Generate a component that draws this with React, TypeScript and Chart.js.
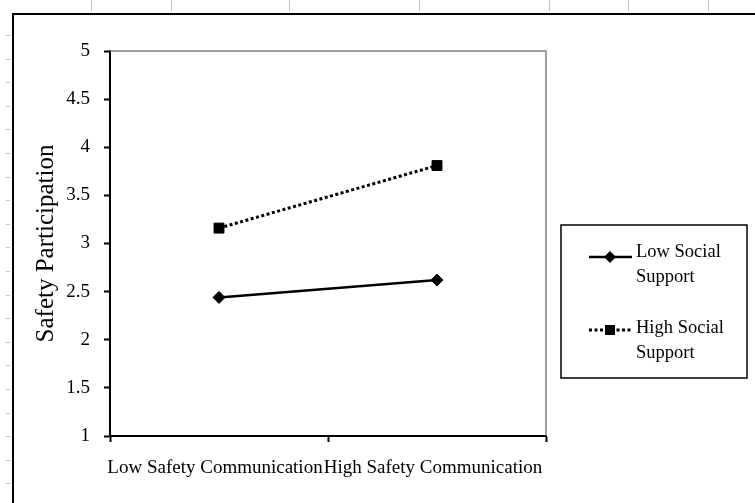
import React, { useEffect, useRef } from 'react';
import { Chart, registerables } from 'chart.js';

Chart.register(...registerables);

const categories = ['Low Safety Communication', 'High Safety Communication'];
const seriesLabels = ['Low Social Support', 'High Social Support'];
const lowSocialSupport = [2.44, 2.62];
const highSocialSupport = [3.16, 3.81];
const yMin = 1;
const yMax = 5;
const yStep = 0.5;
const yTitle = 'Safety Participation';

const SERIF = '"Liberation Serif", "Times New Roman", serif';

const framePlugin = {
  id: 'framePlugin',
  beforeDraw(chart: any) {
    const ctx = chart.ctx;
    const W = chart.width;
    const H = chart.height;
    ctx.save();
    ctx.fillStyle = '#ffffff';
    ctx.fillRect(0, 0, W, H);
    // faint spreadsheet gridline remnants
    ctx.strokeStyle = '#b8c4dc';
    ctx.lineWidth = 1;
    [91, 171, 289, 419, 549, 628, 708].forEach((x) => {
      ctx.beginPath();
      ctx.moveTo(x + 0.5, 0);
      ctx.lineTo(x + 0.5, 11);
      ctx.stroke();
    });
    for (let y = 35; y < H; y += 23.6) {
      ctx.beginPath();
      ctx.moveTo(6, Math.round(y) + 0.5);
      ctx.lineTo(10, Math.round(y) + 0.5);
      ctx.stroke();
    }
    // outer chart frame
    ctx.strokeStyle = '#000000';
    ctx.lineWidth = 2;
    ctx.beginPath();
    ctx.moveTo(13, H + 2);
    ctx.lineTo(13, 14);
    ctx.lineTo(W + 2, 14);
    ctx.stroke();
    ctx.restore();
  },
  beforeDatasetsDraw(chart: any) {
    const { ctx, chartArea } = chart;
    ctx.save();
    ctx.strokeStyle = '#808080';
    ctx.lineWidth = 1.5;
    ctx.beginPath();
    ctx.moveTo(chartArea.left, chartArea.top);
    ctx.lineTo(chartArea.right, chartArea.top);
    ctx.lineTo(chartArea.right, chartArea.bottom);
    ctx.stroke();
    ctx.restore();
  },
};

function drawMarker(ctx: CanvasRenderingContext2D, style: string, x: number, y: number) {
  ctx.beginPath();
  if (style === 'rectRot') {
    const r = 6;
    ctx.moveTo(x, y - r);
    ctx.lineTo(x + r, y);
    ctx.lineTo(x, y + r);
    ctx.lineTo(x - r, y);
    ctx.closePath();
  } else {
    const s = 5;
    ctx.rect(x - s, y - s, 2 * s, 2 * s);
  }
  ctx.fill();
}

const legendPlugin = {
  id: 'customLegend',
  afterDraw(chart: any) {
    const ctx = chart.ctx;
    ctx.save();
    ctx.strokeStyle = '#000000';
    ctx.lineWidth = 1.5;
    ctx.strokeRect(561, 225, 186, 153);
    const rows = [
      { lineY: 257, textY: 252 },
      { lineY: 330, textY: 328 },
    ];
    chart.data.datasets.forEach((ds: any, i: number) => {
      const row = rows[i];
      ctx.strokeStyle = '#000000';
      ctx.lineWidth = ds.borderWidth;
      ctx.setLineDash(ds.borderDash || []);
      ctx.beginPath();
      ctx.moveTo(589, row.lineY);
      ctx.lineTo(632, row.lineY);
      ctx.stroke();
      ctx.setLineDash([]);
      ctx.fillStyle = '#000000';
      drawMarker(ctx, ds.pointStyle, 610, row.lineY);
      const label: string = ds.label;
      const idx = label.lastIndexOf(' ');
      const lines = [label.slice(0, idx), label.slice(idx + 1)];
      ctx.font = `18.5px ${SERIF}`;
      ctx.textAlign = 'left';
      ctx.textBaseline = 'middle';
      lines.forEach((t, j) => ctx.fillText(t, 636, row.textY + j * 25));
    });
    ctx.restore();
  },
};

export default function App() {
  const canvasRef = useRef<HTMLCanvasElement | null>(null);

  useEffect(() => {
    document.body.style.margin = '0';
    const canvas = canvasRef.current;
    if (!canvas) return;
    const chart = new Chart(canvas, {
      type: 'line',
      data: {
        labels: categories,
        datasets: [
          {
            label: seriesLabels[0],
            data: lowSocialSupport,
            borderColor: '#000000',
            backgroundColor: '#000000',
            borderWidth: 2.5,
            pointStyle: 'rectRot',
            pointRadius: 6,
            pointBorderWidth: 1,
            pointBackgroundColor: '#000000',
            pointBorderColor: '#000000',
            tension: 0,
          },
          {
            label: seriesLabels[1],
            data: highSocialSupport,
            borderColor: '#000000',
            backgroundColor: '#000000',
            borderWidth: 3,
            borderDash: [3, 2.5],
            pointStyle: 'rect',
            pointRadius: 7,
            pointBorderWidth: 1,
            pointBackgroundColor: '#000000',
            pointBorderColor: '#000000',
            tension: 0,
          },
        ],
      },
      options: {
        animation: false,
        responsive: false,
        maintainAspectRatio: false,
        layout: { padding: { left: 29, top: 51, right: 209, bottom: 15 } },
        plugins: {
          legend: { display: false },
          tooltip: { enabled: false },
          title: { display: false },
        },
        scales: {
          x: {
            type: 'category',
            offset: true,
            afterFit: (scale: any) => {
              scale.height = 52;
            },
            grid: {
              offset: true,
              drawOnChartArea: false,
              drawTicks: true,
              tickLength: 6,
              tickWidth: 2,
              tickColor: '#000000',
            },
            border: { display: true, color: '#000000', width: 2 },
            ticks: {
              autoSkip: false,
              maxRotation: 0,
              minRotation: 0,
              padding: 15,
              labelOffset: -4,
              color: '#000000',
              font: { family: SERIF, size: 19 },
            },
          },
          y: {
            min: yMin,
            max: yMax,
            afterFit: (scale: any) => {
              scale.width = 81;
            },
            grid: {
              drawOnChartArea: false,
              drawTicks: true,
              tickLength: 6,
              tickWidth: 2,
              tickColor: '#000000',
            },
            border: { display: true, color: '#000000', width: 2 },
            ticks: {
              stepSize: yStep,
              padding: 14,
              color: '#000000',
              font: { family: SERIF, size: 19 },
              callback: (value: any) => String(Number(value)),
            },
            title: {
              display: true,
              text: yTitle,
              color: '#000000',
              font: { family: SERIF, size: 25 },
              padding: { top: 2, bottom: 4 },
            },
          },
        },
      },
      plugins: [framePlugin, legendPlugin],
    });
    return () => chart.destroy();
  }, []);

  return (
    <div style={{ width: 755, height: 503 }}>
      <canvas ref={canvasRef} width={755} height={503} style={{ display: 'block' }} />
    </div>
  );
}
